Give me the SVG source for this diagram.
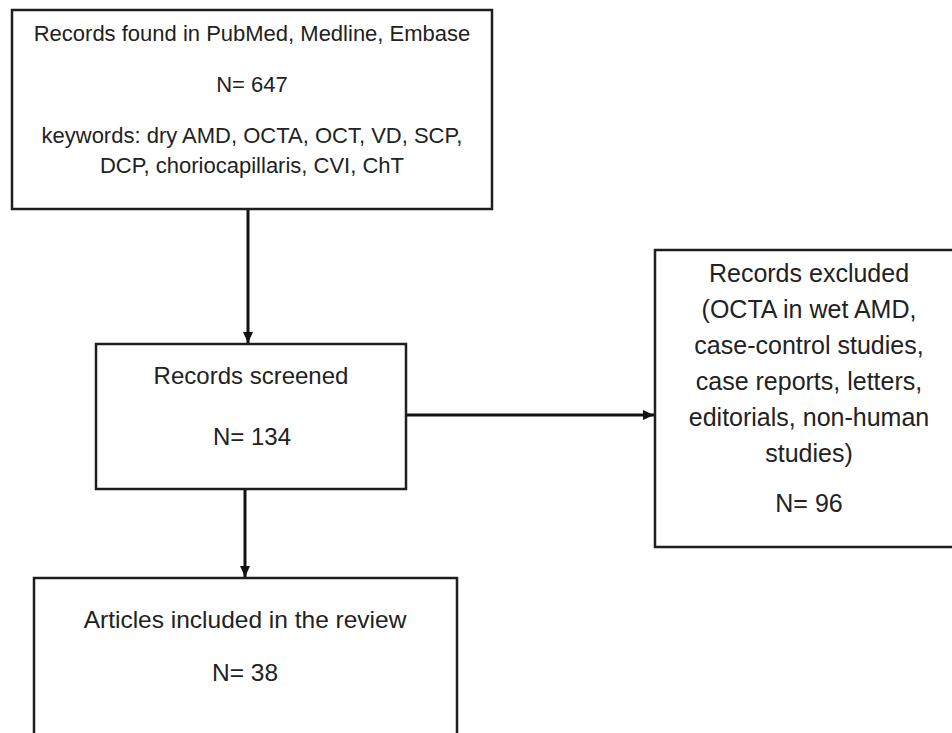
<svg xmlns="http://www.w3.org/2000/svg" width="952" height="733" viewBox="0 0 952 733">
<defs>
<style>
.box{fill:#fff;stroke:#1e1e1e;stroke-width:2.5}
.t{font-family:"Liberation Sans",Arial,sans-serif;fill:#222;text-anchor:middle}
.c{stroke:#111;stroke-width:3;fill:none}
</style>
<marker id="ah" markerUnits="userSpaceOnUse" markerWidth="12" markerHeight="12" viewBox="0 0 12 12" refX="11" refY="6" orient="auto">
<path d="M0,1 L11,6 L0,11 Z" fill="#111"/>
</marker>
</defs>
<rect width="952" height="733" fill="#fff"/>
<g id="connectors">
<line class="c" x1="248" y1="210" x2="248" y2="343" marker-end="url(#ah)"/>
<line class="c" x1="406" y1="415" x2="654" y2="415" marker-end="url(#ah)"/>
<line class="c" x1="245" y1="490" x2="245" y2="577" marker-end="url(#ah)"/>
</g>
<g id="records-found">
<rect class="box" x="12" y="10" width="480" height="199"/>
<text class="t" font-size="22" x="252" y="41">Records found in PubMed, Medline, Embase</text>
<text class="t" font-size="22" x="252" y="92">N= 647</text>
<text class="t" font-size="22" x="252" y="143">keywords: dry AMD, OCTA, OCT, VD, SCP,</text>
<text class="t" font-size="22" x="252" y="173">DCP, choriocapillaris, CVI, ChT</text>
</g>
<g id="records-screened">
<rect class="box" x="96" y="344" width="310" height="145"/>
<text class="t" font-size="24" x="251" y="384">Records screened</text>
<text class="t" font-size="24" x="252" y="445">N= 134</text>
</g>
<g id="records-excluded">
<rect class="box" x="655" y="250" width="310" height="297"/>
<text class="t" font-size="25" x="809" y="282">Records excluded</text>
<text class="t" font-size="25" x="809" y="318">(OCTA in wet AMD,</text>
<text class="t" font-size="25" x="809" y="354">case-control studies,</text>
<text class="t" font-size="25" x="809" y="390">case reports, letters,</text>
<text class="t" font-size="25" x="809" y="426">editorials, non-human</text>
<text class="t" font-size="25" x="809" y="462">studies)</text>
<text class="t" font-size="25" x="809" y="512">N= 96</text>
</g>
<g id="articles-included">
<rect class="box" x="34" y="578" width="423" height="170"/>
<text class="t" font-size="24.5" x="245" y="628">Articles included in the review</text>
<text class="t" font-size="24.5" x="245" y="681">N= 38</text>
</g>
</svg>
